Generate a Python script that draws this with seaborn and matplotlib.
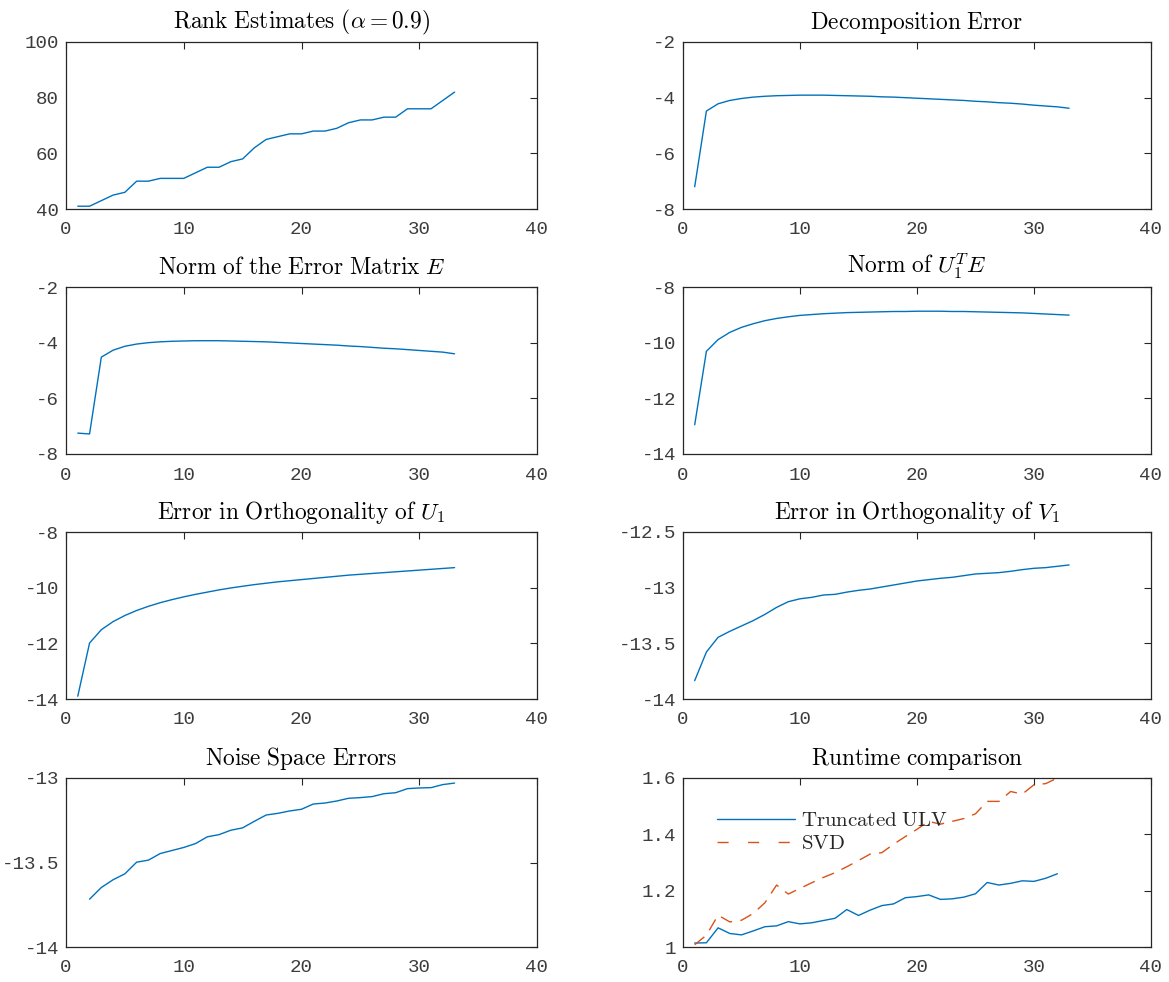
import numpy as np
import pandas as pd
import matplotlib
matplotlib.use('Agg')
import matplotlib.pyplot as plt
import seaborn as sns

# ---- data ----
steps = [1, 2, 3, 4, 5, 6, 7, 8, 9, 10, 11, 12, 13, 14, 15, 16, 17,
         18, 19, 20, 21, 22, 23, 24, 25, 26, 27, 28, 29, 30, 31, 32, 33]

rank_est = [41, 41, 43, 45, 46, 50, 50, 51, 51, 51, 53, 55, 55, 57, 58, 62, 65,
            66, 67, 67, 68, 68, 69, 71, 72, 72, 73, 73, 76, 76, 76, 79, 82]

decomp_err = [-7.2, -4.48, -4.22, -4.1, -4.03, -3.98, -3.95, -3.93, -3.92, -3.91,
              -3.91, -3.91, -3.92, -3.93, -3.94, -3.95, -3.97, -3.98, -4.0, -4.02,
              -4.04, -4.06, -4.08, -4.1, -4.13, -4.15, -4.18, -4.2, -4.23, -4.27,
              -4.3, -4.33, -4.38]

norm_E = [-7.25, -7.28, -4.52, -4.27, -4.13, -4.05, -4.0, -3.97, -3.95, -3.94,
          -3.93, -3.93, -3.93, -3.94, -3.95, -3.96, -3.97, -3.99, -4.01, -4.03,
          -4.05, -4.07, -4.09, -4.12, -4.14, -4.17, -4.2, -4.22, -4.25, -4.28,
          -4.31, -4.34, -4.4]

norm_U1E = [-12.95, -10.31, -9.89, -9.63, -9.45, -9.32, -9.21, -9.13, -9.07, -9.02,
            -8.99, -8.96, -8.94, -8.92, -8.91, -8.9, -8.89, -8.88, -8.88, -8.87,
            -8.87, -8.87, -8.88, -8.88, -8.89, -8.9, -8.91, -8.92, -8.93, -8.95,
            -8.97, -8.99, -9.01]

orth_U1 = [-13.9, -11.99, -11.51, -11.22, -11.0, -10.82, -10.67, -10.54, -10.43, -10.33,
           -10.24, -10.16, -10.08, -10.01, -9.95, -9.89, -9.84, -9.79, -9.75, -9.71,
           -9.67, -9.63, -9.59, -9.55, -9.52, -9.49, -9.46, -9.43, -9.4, -9.37,
           -9.34, -9.31, -9.28]

orth_V1 = [-13.835, -13.578, -13.446, -13.392, -13.344, -13.296, -13.24, -13.177, -13.126,
           -13.10, -13.087, -13.066, -13.06, -13.04, -13.024, -13.012, -12.994, -12.976,
           -12.958, -12.94, -12.928, -12.916, -12.907, -12.892, -12.877, -12.871, -12.865,
           -12.853, -12.838, -12.826, -12.82, -12.808, -12.796]

noise_steps = steps[1:]
noise_err = [-13.717, -13.648, -13.602, -13.567, -13.498, -13.486, -13.447, -13.429,
             -13.411, -13.388, -13.348, -13.335, -13.309, -13.295, -13.256, -13.219,
             -13.209, -13.195, -13.185, -13.154, -13.148, -13.136, -13.12, -13.116,
             -13.11, -13.093, -13.087, -13.063, -13.059, -13.057, -13.039, -13.03]

rt_steps = steps[:32]
rt_ulv = [1.014, 1.015, 1.068, 1.048, 1.043, 1.057, 1.072, 1.075, 1.09, 1.082, 1.086,
          1.094, 1.102, 1.133, 1.112, 1.131, 1.147, 1.153, 1.175, 1.179, 1.185, 1.169,
          1.171, 1.177, 1.189, 1.229, 1.22, 1.226, 1.235, 1.233, 1.244, 1.26]
rt_svd = [1.008, 1.042, 1.113, 1.089, 1.095, 1.119, 1.157, 1.22, 1.188, 1.208, 1.228,
          1.247, 1.264, 1.285, 1.307, 1.33, 1.335, 1.365, 1.392, 1.418, 1.446, 1.436,
          1.446, 1.456, 1.473, 1.517, 1.517, 1.552, 1.543, 1.576, 1.58, 1.6]

BLUE = '#0072BD'
ORANGE = '#D95319'
GREY = '#262626'
TICK_GREY = '#3c3c3c'

sns.set_style('white')
plt.rcParams['mathtext.fontset'] = 'cm'
plt.rcParams['axes.unicode_minus'] = False
TICK_FONT = 'Liberation Mono'

W, H = 1169, 982
fig = plt.figure(figsize=(W / 100, H / 100), dpi=100)

cols = [(66, 537), (683, 1151)]
rows = [(42, 209), (287, 454), (532, 699), (778, 947)]


def make_ax(r, c):
    x0, x1 = cols[c]
    y0, y1 = rows[r]
    return fig.add_axes([x0 / W, 1 - y1 / H, (x1 - x0) / W, (y1 - y0) / H])


def style(ax, title, ylim, yticks, ylabels):
    ax.set_xlim(0, 40)
    ax.set_xticks([0, 10, 20, 30, 40])
    ax.set_ylim(*ylim)
    ax.set_yticks(yticks)
    ax.set_yticklabels(ylabels)
    ax.set_xticklabels(['0', '10', '20', '30', '40'])
    for lab in ax.get_xticklabels() + ax.get_yticklabels():
        lab.set_fontfamily(TICK_FONT)
        lab.set_fontsize(13.8)
        lab.set_color(TICK_GREY)
    ax.tick_params(axis='both', direction='in', length=5, width=0.8, color=GREY,
                   top=True, right=True)
    ax.tick_params(axis='x', pad=9)
    ax.tick_params(axis='y', pad=5)
    for sp in ax.spines.values():
        sp.set_color(GREY)
        sp.set_linewidth(0.9)
        sp.set_visible(True)
    ax.set_xlabel('')
    ax.set_ylabel('')
    ax.set_title(title, fontsize=16.8, color='black', pad=9.5)


# Rank Estimates
ax = make_ax(0, 0)
sns.lineplot(x=steps, y=rank_est, ax=ax, color=BLUE, linewidth=1.0)
style(ax, r'$\mathrm{Rank\ Estimates}\ (\alpha = 0.9)$', (40, 100),
      [40, 60, 80, 100], ['40', '60', '80', '100'])

# Decomposition Error
ax = make_ax(0, 1)
sns.lineplot(x=steps, y=decomp_err, ax=ax, color=BLUE, linewidth=1.0)
style(ax, r'$\mathrm{Decomposition\ Error}$', (-8, -2),
      [-8, -6, -4, -2], ['-8', '-6', '-4', '-2'])

# Norm of the Error Matrix E
ax = make_ax(1, 0)
sns.lineplot(x=steps, y=norm_E, ax=ax, color=BLUE, linewidth=1.0)
style(ax, r'$\mathrm{Norm\ of\ the\ Error\ Matrix}\ E$', (-8, -2),
      [-8, -6, -4, -2], ['-8', '-6', '-4', '-2'])

# Norm of U1^T E
ax = make_ax(1, 1)
sns.lineplot(x=steps, y=norm_U1E, ax=ax, color=BLUE, linewidth=1.0)
style(ax, r'$\mathrm{Norm\ of}\ U_1^T E$', (-14, -8),
      [-14, -12, -10, -8], ['-14', '-12', '-10', '-8'])

# Error in Orthogonality of U1
ax = make_ax(2, 0)
sns.lineplot(x=steps, y=orth_U1, ax=ax, color=BLUE, linewidth=1.0)
style(ax, r'$\mathrm{Error\ in\ Orthogonality\ of}\ U_1$', (-14, -8),
      [-14, -12, -10, -8], ['-14', '-12', '-10', '-8'])

# Error in Orthogonality of V1
ax = make_ax(2, 1)
sns.lineplot(x=steps, y=orth_V1, ax=ax, color=BLUE, linewidth=1.0)
style(ax, r'$\mathrm{Error\ in\ Orthogonality\ of}\ V_1$', (-14, -12.5),
      [-14, -13.5, -13, -12.5], ['-14', '-13.5', '-13', '-12.5'])

# Noise Space Errors
ax = make_ax(3, 0)
sns.lineplot(x=noise_steps, y=noise_err, ax=ax, color=BLUE, linewidth=1.0)
style(ax, r'$\mathrm{Noise\ Space\ Errors}$', (-14, -13),
      [-14, -13.5, -13], ['-14', '-13.5', '-13'])

# Runtime comparison
ax = make_ax(3, 1)
rt = pd.DataFrame({
    'step': rt_steps + rt_steps,
    'time': rt_ulv + rt_svd,
    'method': ['Truncated ULV'] * len(rt_ulv) + ['SVD'] * len(rt_svd),
})
sns.lineplot(data=rt, x='step', y='time', hue='method', style='method',
             palette={'Truncated ULV': BLUE, 'SVD': ORANGE},
             dashes={'Truncated ULV': '', 'SVD': (9, 6)},
             ax=ax, linewidth=1.0)
style(ax, r'$\mathrm{Runtime\ comparison}$', (1, 1.6),
      [1, 1.2, 1.4, 1.6], ['1', '1.2', '1.4', '1.6'])
handles, labels = ax.get_legend_handles_labels()
leg = ax.legend(handles, [r'$\mathrm{Truncated\ ULV}$', r'$\mathrm{SVD}$'],
                loc='upper left', bbox_to_anchor=(0.055, 0.86), frameon=False,
                fontsize=15, handlelength=3.75, handletextpad=0.3,
                labelspacing=0.15, borderaxespad=0)
for line in leg.get_lines():
    line.set_linewidth(1.0)
leg.get_lines()[1].set_dashes((8, 14))

fig.savefig('out.png', dpi=100)
